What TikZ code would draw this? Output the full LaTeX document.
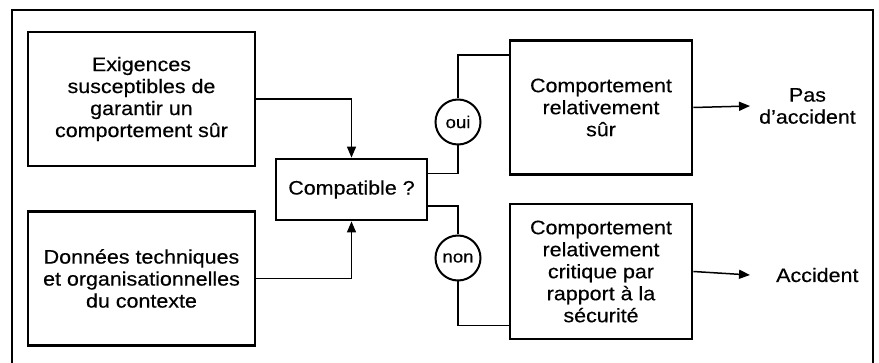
\documentclass[tikz,border=0pt]{standalone}
\usepackage{fontspec}
\setmainfont{Liberation Sans}[FakeStretch=1.1, FakeBold=0.4]
\usetikzlibrary{arrows.meta}
\tikzset{
  boite/.style = {align=center, inner sep=0pt, text centered,
    font=\fontsize{19.5}{22}\selectfont},
  bloc/.style = {boite, rectangle, draw=black, line width=2.8pt},% bloc a trait epais
  bloc_g/.style = {bloc, minimum width=227pt, minimum height=134pt},% colonne de gauche
  bloc_d/.style = {bloc, minimum width=182pt, minimum height=134pt},% colonne de droite
  rond/.style = {boite, circle, draw=black, line width=2pt,
    minimum size=45pt, font=\fontsize{17}{20}\selectfont},% oui / non
  issue/.style = {boite, anchor=west},% texte en sortie
  lien/.style = {line width=1.5pt},
  fleche/.style = {lien, -{Triangle[length=11pt,width=9pt]}}
}

\begin{document}
\begin{tikzpicture}[x=1pt, y=-1pt]
	\useasboundingbox (0,0) rectangle (879,363);
	% cadre
	\draw [line width=1.6pt] (12,363) -- (12,10) -- (873,10) -- (873,363);

	\node [bloc_g] (exig) at (141.5,99) {Exigences\\susceptibles de\\garantir un\\comportement sûr};
	\node [bloc_g] (donn) at (141.5,278.5) {Données techniques\\et organisationnelles\\du contexte};
	\node [bloc, minimum width=151pt, minimum height=61pt] (compat) at (351.5,189.5) {Compatible ?};
	\node [bloc_d] (sur) at (601,107.5) {Comportement\\relativement\\sûr};
	\node [bloc_d, minimum height=135pt] (crit) at (601,271.5) {Comportement\\relativement\\critique par\\rapport à la\\sécurité};
	\node [rond] (oui) at (458,122) {oui};
	\node [rond] (non) at (458,258) {non};
	\node [issue] (pas) at (759,106) {Pas\\d'accident};
	\node [issue] (acc) at (776,275) {Accident};

	% entrees
	\draw [fleche] (exig.east) -| (compat.north);
	\draw [fleche] (donn.east) -| (compat.south);
	% branches
	\draw [lien] ([yshift=16pt]compat.east) -| (oui.south);
	\draw [lien] (oui.north) |- ([yshift=-16pt]sur.north west);
	\draw [lien] ([yshift=-16.5pt]compat.east) -| (non.north);
	\draw [lien] (non.south) |- ([yshift=15pt]crit.south west);
	% sorties
	\draw [fleche] (sur.east) -- ([xshift=-9pt]pas.west);
	\draw [fleche] (crit.east) -- ([xshift=-26pt]acc.west);
\end{tikzpicture}
\end{document}
